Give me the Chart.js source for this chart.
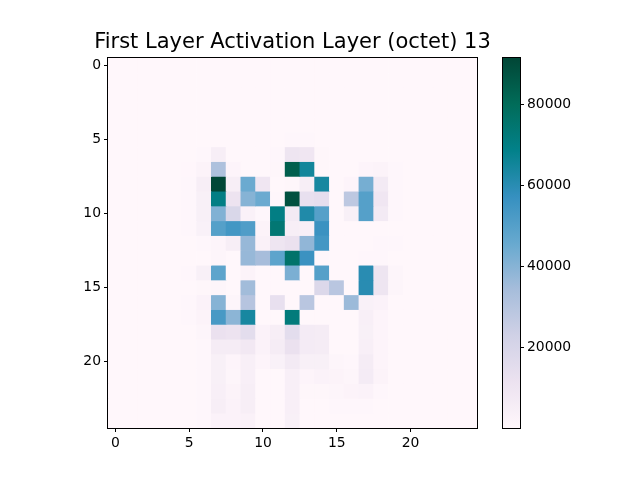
<!DOCTYPE html>
<html>
<head>
<meta charset="utf-8">
<title>First Layer Activation Layer (octet) 13</title>
<script src="https://cdn.jsdelivr.net/npm/chart.js@4"></script>
<style>
  body { margin: 0; background: #fff; }
  canvas { position: absolute; top: 0; }
  #heatCanvas { left: 0; }
  #barCanvas { left: 480px; }
</style>
</head>
<body>
<!-- narrower than the page so the title centres over the axes, not the figure -->
<canvas id="heatCanvas" width="585" height="480"></canvas>
<canvas id="barCanvas" width="160" height="480"></canvas>
<script>
const titleText = "First Layer Activation Layer (octet) 13";
const columns = Array.from({ length: 25 }, (_, i) => String(i));
const tickValues = [0, 5, 10, 15, 20];
const colorbarTicks = [20000, 40000, 60000, 80000];
const colorMin = 0;
const colorMax = 91400;
const palette = ["#fff7fb", "#ece2f0", "#d0d1e6", "#a6bddb", "#67a9cf", "#3690c0", "#02818a", "#016c59", "#014636"];

// activation per row
const row0 = [0,0,0,0,0,0,0,0,0,0,0,0,0,0,0,0,0,0,0,0,0,0,0,0,0];
const row1 = [0,0,0,0,0,0,0,0,0,0,0,0,0,0,0,0,0,0,0,0,0,0,0,0,0];
const row2 = [0,0,0,0,0,0,0,0,0,0,0,0,0,0,0,0,0,0,0,0,0,0,0,0,0];
const row3 = [0,0,0,0,0,0,0,0,0,0,0,0,0,0,0,0,0,0,0,0,0,0,0,0,0];
const row4 = [0,0,0,0,0,0,0,0,0,0,0,0,0,0,0,0,0,0,0,0,0,0,0,0,0];
const row5 = [0,0,0,0,0,0,0,0,0,0,0,0,500,500,0,0,0,0,0,0,0,0,0,0,0];
const row6 = [0,0,0,0,0,0,500,5000,0,0,0,500,10000,9000,800,0,0,0,0,0,0,0,0,0,0];
const row7 = [0,0,0,0,0,300,2000,32000,1500,0,0,800,84000,65000,800,0,0,1500,2000,500,0,0,0,0,0];
const row8 = [0,0,0,0,0,500,5000,91000,5000,45000,9000,0,800,5000,64000,0,1500,43000,7000,400,0,0,0,0,0];
const row9 = [0,0,0,0,0,500,4000,70000,11000,40000,45000,500,88000,13000,14000,0,28000,50000,9000,500,0,0,0,0,0];
const row10 = [0,0,0,0,0,500,4000,41000,19000,3000,400,70000,7000,62000,50000,0,4000,50000,7000,500,0,0,0,0,0];
const row11 = [0,0,0,0,0,500,3500,50000,54000,51000,2000,74000,5000,4500,56000,0,0,0,0,0,0,0,0,0,0];
const row12 = [0,0,0,0,0,0,400,1500,5000,37000,3000,10000,12000,38000,54000,0,0,0,500,400,200,0,0,0,0];
const row13 = [0,0,0,0,0,0,200,1000,0,37000,34000,48000,76000,56000,500,0,0,500,500,200,200,0,0,0,0];
const row14 = [0,0,0,0,0,500,4000,48000,0,2000,0,0,42000,0,50000,0,0,60000,10000,1000,0,0,0,0,0];
const row15 = [0,0,0,0,0,200,600,1000,0,35000,0,0,0,0,18000,29000,0,60000,10000,1000,0,0,0,0,0];
const row16 = [0,0,0,0,0,500,2500,40000,1000,30000,0,13000,0,29000,0,0,36000,3500,2500,0,0,0,0,0,0];
const row17 = [0,0,0,0,0,500,2000,53000,39000,64000,0,0,72000,0,0,0,0,4500,1500,0,0,0,0,0,0];
const row18 = [0,0,0,0,0,200,1000,12000,11000,15000,2500,5000,15000,6500,6000,0,0,4000,1500,0,0,0,0,0,0];
const row19 = [0,0,0,0,0,200,500,6000,6000,8000,2500,6000,12000,6500,6000,0,0,4500,1500,0,0,0,0,0,0];
const row20 = [0,0,0,0,0,0,500,4000,1500,4500,1500,3500,7000,4000,4000,1000,500,6000,1500,0,0,0,0,0,0];
const row21 = [0,0,0,0,0,0,400,4000,1000,4500,0,0,4500,1500,2500,2000,1000,6500,2000,0,0,0,0,0,0];
const row22 = [0,0,0,0,0,0,400,4500,2000,5000,0,0,4500,600,600,1000,2000,2500,500,0,0,0,0,0,0];
const row23 = [0,0,0,0,0,0,400,5000,2500,5000,0,0,4500,0,0,500,500,400,0,0,0,0,0,0,0];
const row24 = [0,0,0,0,0,0,400,2500,2500,3000,0,0,4000,0,0,0,0,0,0,0,0,0,0,0,0];
const rows = [row0,row1,row2,row3,row4,row5,row6,row7,row8,row9,row10,row11,row12,
  row13,row14,row15,row16,row17,row18,row19,row20,row21,row22,row23,row24];

Chart.defaults.font.family = '"DejaVu Sans"';
Chart.defaults.font.size = 13.9;
Chart.defaults.color = "#000";

function hexToRgb(hex) {
  return [1, 3, 5].map((i) => parseInt(hex.slice(i, i + 2), 16));
}

// same lookup as the colorbar
function colorFor(value) {
  const t = Math.min(Math.max((value - colorMin) / (colorMax - colorMin), 0), 1);
  const pos = t * (palette.length - 1);
  const i = Math.min(Math.floor(pos), palette.length - 2);
  const a = hexToRgb(palette[i]);
  const b = hexToRgb(palette[i + 1]);
  const mix = a.map((v, k) => Math.round(v + (b[k] - v) * (pos - i)));
  return `rgb(${mix.join(",")})`;
}

// matplotlib style box around the axes
const frame = {
  id: "frame",
  afterDraw(chart) {
    const { ctx, chartArea: a } = chart;
    ctx.save();
    ctx.strokeStyle = "#000";
    ctx.lineWidth = 1;
    ctx.strokeRect(Math.round(a.left) - 0.5, Math.round(a.top) - 0.5,
      Math.round(a.right - a.left) + 1, Math.round(a.bottom - a.top) + 1);
    ctx.restore();
  },
};

const tickStyle = { drawOnChartArea: false, drawTicks: true, tickLength: 4, tickColor: "#000", tickWidth: 1 };

new Chart(document.getElementById("heatCanvas"), {
  type: "bar",
  data: {
    labels: columns,
    datasets: rows.map((row, r) => ({
      label: "row " + r,
      data: row.map(() => [r - 0.5, r + 0.5]),
      backgroundColor: row.map(colorFor),
      borderWidth: 0,
      grouped: false,
      barPercentage: 1,
      categoryPercentage: 1,
    })),
  },
  options: {
    responsive: false,
    animation: false,
    devicePixelRatio: 1,
    plugins: {
      legend: { display: false },
      tooltip: { enabled: false },
      title: {
        display: true,
        text: titleText,
        font: { size: 21, weight: "normal" },
        padding: { top: 30, bottom: 2.8 },
      },
    },
    scales: {
      x: {
        type: "category",
        offset: true,
        grid: { ...tickStyle, offset: false },
        border: { color: "#000" },
        ticks: { autoSkip: false, maxRotation: 0, padding: 3 },
        afterBuildTicks: (scale) => {
          scale.ticks = scale.ticks.filter((t) => tickValues.includes(t.value));
        },
        afterFit: (scale) => { scale.height = 52; },
      },
      y: {
        type: "linear",
        reverse: true,
        min: -0.5,
        max: 24.5,
        grid: tickStyle,
        border: { color: "#000" },
        ticks: { padding: 3 },
        afterBuildTicks: (scale) => {
          scale.ticks = tickValues.map((v) => ({ value: v }));
        },
        afterFit: (scale) => { scale.width = 108; },
      },
      // empty axis, only reserves the room right of the heatmap
      spacer: {
        type: "linear",
        position: "right",
        grid: { display: false },
        border: { display: false },
        ticks: { display: false },
        afterFit: (scale) => { scale.width = 108; },
      },
    },
  },
  plugins: [frame],
});

new Chart(document.getElementById("barCanvas"), {
  type: "bar",
  data: {
    labels: ["activation"],
    datasets: [{
      label: "colorbar",
      data: [[colorMin, colorMax]],
      backgroundColor: (context) => {
        const { ctx, chartArea } = context.chart;
        if (!chartArea) return palette[0];
        const gradient = ctx.createLinearGradient(0, chartArea.bottom, 0, chartArea.top);
        palette.forEach((c, i) => gradient.addColorStop(i / (palette.length - 1), c));
        return gradient;
      },
      borderWidth: 0,
      barPercentage: 1,
      categoryPercentage: 1,
    }],
  },
  options: {
    responsive: false,
    animation: false,
    devicePixelRatio: 1,
    layout: { padding: { left: 23, right: 0, top: 58, bottom: 52 } },
    plugins: { legend: { display: false }, tooltip: { enabled: false } },
    scales: {
      x: { display: false, offset: true },
      y: {
        type: "linear",
        position: "right",
        min: colorMin,
        max: colorMax,
        grid: tickStyle,
        border: { color: "#000" },
        ticks: { padding: 3, callback: (value) => String(value) },
        afterBuildTicks: (scale) => {
          scale.ticks = colorbarTicks.map((v) => ({ value: v }));
        },
        afterFit: (scale) => { scale.width = 120; },
      },
    },
  },
  plugins: [frame],
});
</script>
</body>
</html>
